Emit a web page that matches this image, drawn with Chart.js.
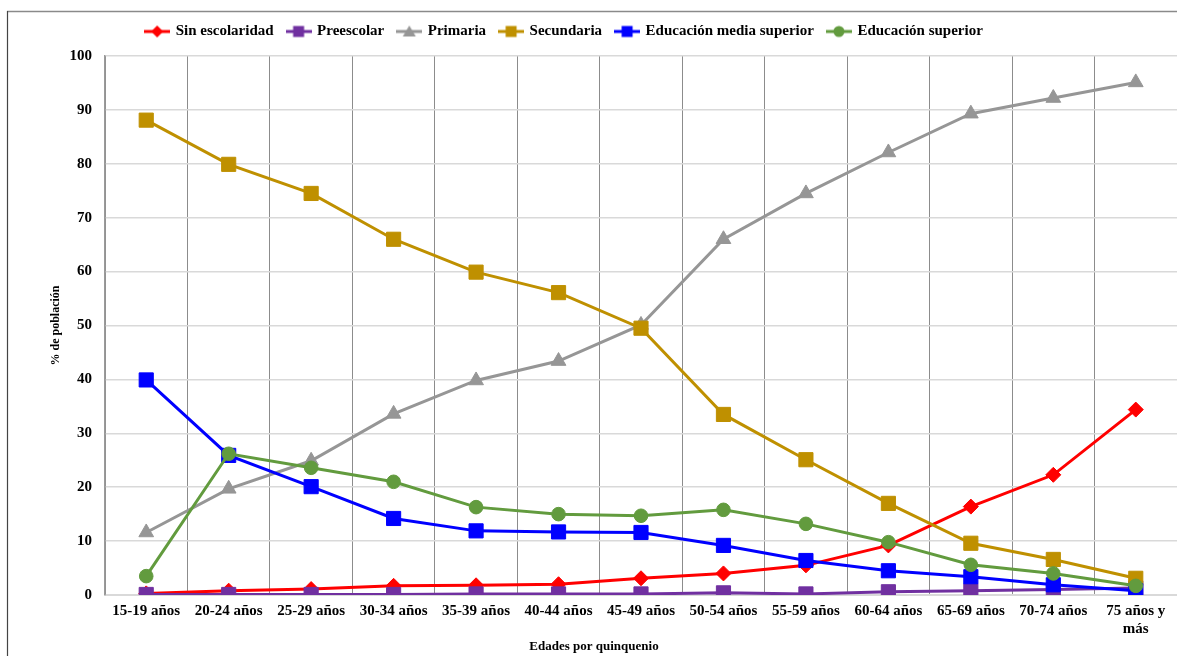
<!DOCTYPE html>
<html>
<head>
<meta charset="utf-8">
<script src="https://cdn.jsdelivr.net/npm/chart.js@4/dist/chart.umd.min.js"></script>
<style>
  html, body { margin: 0; padding: 0; background: #fff; }
  #wrap { position: relative; width: 1177px; height: 656px; overflow: hidden; }
  canvas { display: block; }
</style>
</head>
<body>
<div id="wrap"><canvas id="chart" width="1177" height="656"></canvas></div>
<script>
// Age groups (five-year bands)
const categories = [
  '15-19 años', '20-24 años', '25-29 años', '30-34 años', '35-39 años',
  '40-44 años', '45-49 años', '50-54 años', '55-59 años', '60-64 años',
  '65-69 años', '70-74 años', ['75 años y', 'más']
];

// Percentage of population by schooling level
const sinEscolaridad  = [0.3, 0.8, 1.1, 1.7, 1.8, 2.0, 3.1, 4.0, 5.5, 9.2, 16.4, 22.3, 34.4];
const preescolar      = [0.1, 0.1, 0.1, 0.1, 0.2, 0.2, 0.2, 0.4, 0.2, 0.6, 0.8, 1.0, 1.3];
const primaria        = [11.6, 19.7, 24.9, 33.6, 39.8, 43.4, 50.1, 66.0, 74.5, 82.1, 89.3, 92.2, 95.1];
const secundaria      = [88.1, 79.9, 74.5, 66.0, 59.9, 56.1, 49.5, 33.5, 25.1, 17.0, 9.6, 6.6, 3.1];
const mediaSuperior   = [39.9, 25.9, 20.1, 14.2, 11.9, 11.7, 11.6, 9.2, 6.4, 4.5, 3.4, 1.9, 0.8];
const superior        = [3.5, 26.2, 23.6, 21.0, 16.3, 15.0, 14.7, 15.8, 13.2, 9.8, 5.6, 4.0, 1.7];

// Y axis ticks
const yTicks = [0, 10, 20, 30, 40, 50, 60, 70, 80, 90, 100];

const SERIF = '"Liberation Serif", "Times New Roman", serif';

const seriesDefs = [
  { label: 'Sin escolaridad',          data: sinEscolaridad, color: '#FF0000', style: 'rectRot',  radius: 7.5 },
  { label: 'Preescolar',               data: preescolar,     color: '#7030A0', style: 'rect',     radius: 10 },
  { label: 'Primaria',                 data: primaria,       color: '#969696', style: 'triangle', radius: 8.5 },
  { label: 'Secundaria',               data: secundaria,     color: '#BF9000', style: 'rect',     radius: 10 },
  { label: 'Educación media superior', data: mediaSuperior,  color: '#0000FF', style: 'rect',     radius: 10 },
  { label: 'Educación superior',       data: superior,       color: '#629B3E', style: 'circle',   radius: 6.8 }
];

// Small legend icons: a line segment with the series marker in the middle
function makeIcon(def) {
  const c = document.createElement('canvas');
  c.width = 26; c.height = 16;
  const g = c.getContext('2d');
  g.strokeStyle = def.color; g.fillStyle = def.color; g.lineWidth = 3;
  g.beginPath(); g.moveTo(0, 8); g.lineTo(26, 8); g.stroke();
  g.beginPath();
  const cx = 13, cy = 8;
  if (def.style === 'rect') {
    g.rect(cx - 5.5, cy - 5.5, 11, 11);
  } else if (def.style === 'rectRot') {
    g.moveTo(cx, cy - 6); g.lineTo(cx + 6, cy); g.lineTo(cx, cy + 6); g.lineTo(cx - 6, cy); g.closePath();
  } else if (def.style === 'triangle') {
    g.moveTo(cx, cy - 6); g.lineTo(cx + 6.5, cy + 5); g.lineTo(cx - 6.5, cy + 5); g.closePath();
  } else {
    g.arc(cx, cy, 5.5, 0, Math.PI * 2);
  }
  g.fill();
  return c;
}
const legendIcons = seriesDefs.map(makeIcon);

const datasets = seriesDefs.map((d, i) => ({
  label: d.label,
  data: d.data,
  borderColor: d.color,
  backgroundColor: d.color,
  borderWidth: 3,
  pointStyle: d.style,
  pointRadius: d.radius,
  pointHoverRadius: d.radius,
  pointBackgroundColor: d.color,
  pointBorderColor: d.color,
  pointBorderWidth: 1,
  tension: 0,
  order: seriesDefs.length - i   // later series are painted on top
}));

// Frame around the chart and white background
const framePlugin = {
  id: 'frame',
  beforeDraw(chart) {
    const ctx = chart.ctx;
    ctx.save();
    ctx.fillStyle = '#ffffff';
    ctx.fillRect(0, 0, chart.width, chart.height);
    ctx.restore();
  },
  afterDraw(chart) {
    const ctx = chart.ctx;
    ctx.save();
    ctx.strokeStyle = '#8a8a8a';
    ctx.lineWidth = 1.5;
    ctx.beginPath(); ctx.moveTo(7, 11.5); ctx.lineTo(chart.width, 11.5); ctx.stroke();
    ctx.strokeStyle = '#444444';
    ctx.lineWidth = 1.2;
    ctx.beginPath(); ctx.moveTo(7.5, 11); ctx.lineTo(7.5, chart.height); ctx.stroke();
    ctx.restore();
  }
};

// Fixed legend band height, legend placement, and x-title centred on the whole frame
const layoutTweaksPlugin = {
  id: 'layoutTweaks',
  afterInit(chart) {
    const lg = chart.legend;
    if (!lg) return;
    const fit = lg.fit;
    lg.fit = function () { fit.call(this); this.height = 46; };
  },
  afterLayout(chart) {
    const lg = chart.legend;
    if (lg) { lg.left -= 48; }
    const xs = chart.scales.x;
    if (xs && !xs._frameTitle) {
      const drawTitle = xs.drawTitle;
      xs.drawTitle = function () {
        const l = this.left;
        this.left = l - 94;
        drawTitle.call(this);
        this.left = l;
      };
      xs._frameTitle = true;
    }
  }
};

const chart = new Chart(document.getElementById('chart'), {
  type: 'line',
  data: { labels: categories, datasets },
  plugins: [framePlugin, layoutTweaksPlugin],
  options: {
    responsive: false,
    animation: false,
    devicePixelRatio: 1,
    layout: { autoPadding: false, padding: { left: 0, right: 0, top: 10, bottom: 0 } },
    plugins: {
      tooltip: { enabled: false },
      legend: {
        position: 'top',
        labels: {
          color: '#000',
          font: { family: SERIF, size: 15, weight: 'bold' },
          usePointStyle: true,
          pointStyleWidth: 22,
          boxHeight: 15,
          padding: 14,
          sort: (a, b) => a.datasetIndex - b.datasetIndex,
          generateLabels(ch) {
            const items = Chart.defaults.plugins.legend.labels.generateLabels(ch);
            items.forEach(it => { it.pointStyle = legendIcons[it.datasetIndex]; });
            return items;
          }
        }
      }
    },
    scales: {
      x: {
        type: 'category',
        offset: true,
        grid: { display: true, offset: true, color: '#8c8c8c', lineWidth: 1, drawTicks: false },
        border: { display: true, color: '#d9d9d9', width: 1 },
        ticks: {
          color: '#000', padding: 7, maxRotation: 0, minRotation: 0, autoSkip: false,
          font: { family: SERIF, size: 15, weight: 'bold' }
        },
        title: {
          display: true, text: 'Edades por quinquenio', color: '#000',
          font: { family: SERIF, size: 13, weight: 'bold' },
          padding: { top: 0, bottom: 2 }
        },
        afterFit(scale) { scale.height = 61; scale.paddingLeft = 0; scale.paddingRight = 0; }
      },
      y: {
        min: 0, max: 100,
        afterBuildTicks(scale) { scale.ticks = yTicks.map(v => ({ value: v })); },
        grid: { color: '#d9d9d9', lineWidth: 1.5, drawTicks: false },
        border: { display: true, color: '#9a9a9a', width: 1.5 },
        ticks: {
          color: '#000', padding: 13,
          font: { family: SERIF, size: 15, weight: 'bold' }
        },
        title: {
          display: true, text: '% de población', color: '#000',
          font: { family: SERIF, size: 12, weight: 'bold' },
          padding: { top: 49, bottom: 0 }
        },
        afterFit(scale) { scale.width = 105; }
      }
    }
  }
});
</script>
</body>
</html>
